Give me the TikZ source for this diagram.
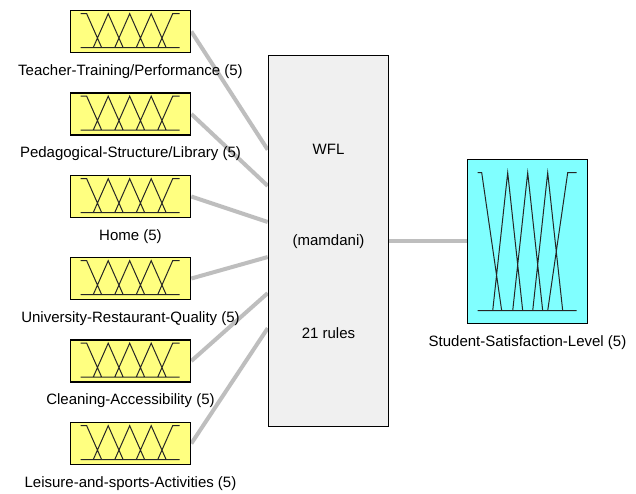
\documentclass[tikz,border=0pt]{standalone}
\usepackage{fontspec}
\setmainfont{Liberation Sans}
\usetikzlibrary{positioning, calc, backgrounds}

\definecolor{inyellow}{RGB}{255,255,128}
\definecolor{outcyan}{RGB}{128,255,255}
\definecolor{fisgray}{RGB}{240,240,240}
\definecolor{wiregray}{RGB}{190,190,190}

\tikzset{
  inbox/.style={draw=black, line width=1.6pt, fill=inyellow, minimum width=120pt, minimum height=42pt, inner sep=0pt},
  fisbox/.style={draw=black, line width=1.6pt, fill=fisgray, minimum width=120pt, minimum height=371pt, inner sep=0pt},
  outbox/.style={draw=black, line width=1.6pt, fill=outcyan, minimum width=120pt, minimum height=164pt, inner sep=0pt},
  lbl/.style={font=\fontsize{15}{17}\selectfont, inner sep=0pt},
  mf/.style={draw=black!85, line width=1pt},
  wire/.style={draw=wiregray, line width=4pt}
}

\begin{document}
\begin{tikzpicture}[x=1pt, y=-1pt]
			\useasboundingbox (0,0) rectangle (636,493);

			\node[inbox] (in1) at (130.5,31.5) {};
			\node[inbox] (in2) at (130.5,114) {};
			\node[inbox] (in3) at (130.5,196.5) {};
			\node[inbox] (in4) at (130.5,278.5) {};
			\node[inbox] (in5) at (130.5,361) {};
			\node[inbox] (in6) at (130.5,443.5) {};

			\node[fisbox] (fis) at (328.5,241) {};
			\node[outbox] (out) at (527.5,241.5) {};

			\node[lbl] (in1l) at ([yshift=-18pt]in1.south) {Teacher-Training/Performance (5)};
			\node[lbl] (in2l) at ([yshift=-18pt]in2.south) {Pedagogical-Structure/Library (5)};
			\node[lbl] (in3l) at ([yshift=-18pt]in3.south) {Home (5)};
			\node[lbl] (in4l) at ([yshift=-18pt]in4.south) {University-Restaurant-Quality (5)};
			\node[lbl] (in5l) at ([yshift=-18pt]in5.south) {Cleaning-Accessibility (5)};
			\node[lbl] (in6l) at ([yshift=-18pt]in6.south) {Leisure-and-sports-Activities (5)};
			\node[lbl] (outl) at ([yshift=-18pt]out.south) {Student-Satisfaction-Level (5)};

			\node[lbl] (fname) at (328.5,149) {WFL};
			\node[lbl] (ftype) at (328.5,242) {(mamdani)};
			\node[lbl] (frules) at (328.5,333) {21 rules};

			\foreach \n in {in1,in2,in3,in4,in5,in6}
				\draw[mf, shift={(\n.north west)}] (11,38) -- (110,38)
					(11,4) -- (17,4) -- (32,38)
					(23.5,38) -- (38.5,4) -- (53.5,38)
					(45,38) -- (60,4) -- (75,38)
					(66.5,38) -- (81.5,4) -- (96.5,38)
					(88,38) -- (103,4) -- (110,4);

			\draw[mf, shift={(out.north west)}] (11,152) -- (110,152)
				(11,14) -- (15,14) -- (35,152)
				(26,152) -- (41,14) -- (56,152)
				(46,152) -- (61,14) -- (76,152)
				(66,152) -- (81,14) -- (96,152)
				(81,152) -- (101,14) -- (110,14);

			\begin{scope}[on background layer]
				\fill[white] (0,0) rectangle (636,493);

				\coordinate (w1) at ($(fis.north west)!0.255!(fis.south west)$);
				\coordinate (w2) at ($(fis.north west)!0.352!(fis.south west)$);
				\coordinate (w3) at ($(fis.north west)!0.449!(fis.south west)$);
				\coordinate (w4) at ($(fis.north west)!0.543!(fis.south west)$);
				\coordinate (w5) at ($(fis.north west)!0.640!(fis.south west)$);
				\coordinate (w6) at ($(fis.north west)!0.734!(fis.south west)$);

				\draw[wire] (in1.east) -- (w1);
				\draw[wire] (in2.east) -- (w2);
				\draw[wire] (in3.east) -- (w3);
				\draw[wire] (in4.east) -- (w4);
				\draw[wire] (in5.east) -- (w5);
				\draw[wire] (in6.east) -- (w6);

				\draw[wire] (fis.east) -- (fis.east -| out.west);
			\end{scope}

		\end{tikzpicture}
\end{document}
